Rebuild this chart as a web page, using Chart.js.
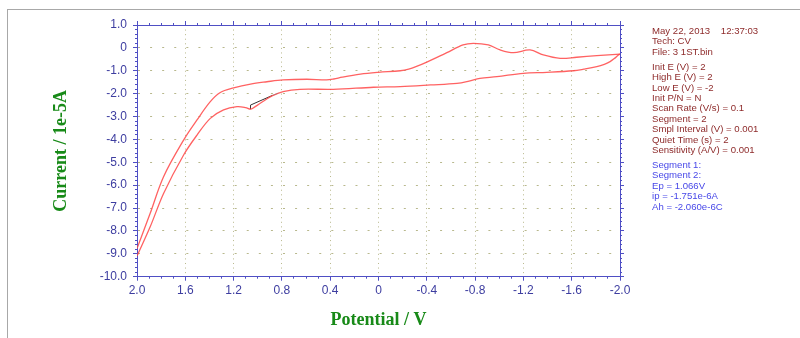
<!DOCTYPE html>
<html>
<head>
<meta charset="utf-8">
<script src="https://cdn.jsdelivr.net/npm/chart.js@4.4.1/dist/chart.umd.min.js"></script>
<style>
  body { margin: 0; background: #fff; }
  #wrap { position: relative; width: 800px; height: 338px; overflow: hidden; background: #fff; }
  #frame { position: absolute; left: 7px; top: 9px; width: 820px; height: 340px;
           border-left: 1px solid #a8a8a8; border-top: 1px solid #a8a8a8; }
  #info { position: absolute; left: 652px; top: 26px; font: 9.6px Arial, "Liberation Sans", sans-serif;
          line-height: 10.4px; color: #8e2b2b; white-space: pre; }
  #info .gap { margin-top: 4.6px; }
  #info .seg { color: #4848e8; }
</style>
</head>
<body>
<div id="wrap">
  <canvas id="cvChart" width="800" height="338"></canvas>
  <div id="frame"></div>
  <div id="info"></div>
</div>
<script>
// ----------------------------- data -----------------------------
// segment 1 : 2.0 V -> -2.0 V
const seg1Potential = [2.0, 1.89, 1.78, 1.614, 1.503, 1.393, 1.31, 1.2, 1.06, 0.924, 0.79, 0.593, 0.43, 0.37, 0.30, 0.15, 0.0,
  -0.18, -0.25, -0.32, -0.40, -0.51, -0.566, -0.70, -0.786, -0.91, -1.007, -1.118, -1.255, -1.365, -1.504, -1.642, -1.808, -2.0];
const seg1Current = [-8.77, -7.22, -5.63, -4.03, -3.15, -2.35, -1.95, -1.75, -1.58, -1.48, -1.40, -1.37, -1.40, -1.36, -1.28, -1.15, -1.07,
  -1.0, -0.93, -0.80, -0.62, -0.35, -0.21, 0.13, 0.20, 0.13, -0.09, -0.21, -0.09, -0.31, -0.46, -0.41, -0.34, -0.27];

// segment 2 : -2.0 V -> 2.0 V
const seg2Potential = [-2.0, -1.987, -1.95, -1.918, -1.87, -1.808, -1.70, -1.614, -1.394, -1.20, -0.98, -0.84, -0.75, -0.65, -0.43,
  -0.18, 0.041, 0.374, 0.65, 0.79, 0.882, 0.979, 1.03, 1.06, 1.10, 1.172, 1.283, 1.393, 1.503, 1.614, 1.78, 1.89, 2.0];
const seg2Current = [-0.27, -0.31, -0.48, -0.60, -0.72, -0.82, -0.93, -1.0, -1.07, -1.11, -1.26, -1.33, -1.45, -1.55, -1.62,
  -1.69, -1.72, -1.81, -1.81, -1.91, -2.10, -2.42, -2.60, -2.68, -2.61, -2.57, -2.71, -3.08, -3.81, -4.68, -6.36, -7.81, -9.1];

// peak baseline (black) and its extension (cyan)
const basePotential = [1.06, 1.06, 0.88];
const baseCurrent = [-2.68, -2.50, -2.08];
const extPotential = [0.88, 0.83];
const extCurrent = [-2.08, -1.98];

// axes
const xMin = -2.0, xMax = 2.0, xStep = 0.4, xMinorStep = 0.1;
const yMin = -10.0, yMax = 1.0, yStep = 1.0, yMinorStep = 0.2;

// info panel
const infoHead = ['May 22, 2013    12:37:03', 'Tech: CV', 'File: 3 1ST.bin'];
const infoParams = ['Init E (V) = 2', 'High E (V) = 2', 'Low E (V) = -2', 'Init P/N = N', 'Scan Rate (V/s) = 0.1',
  'Segment = 2', 'Smpl Interval (V) = 0.001', 'Quiet Time (s) = 2', 'Sensitivity (A/V) = 0.001'];
const infoResults = ['Segment 1:', 'Segment 2:', 'Ep = 1.066V', 'ip = -1.751e-6A', 'Ah = -2.060e-6C'];

// ----------------------------- info text -----------------------------
function addBlock(lines, cls) {
  let div = document.createElement('div');
  div.className = cls;
  div.textContent = lines.join('\n');
  document.getElementById('info').appendChild(div);
}
addBlock(infoHead, '');
addBlock(infoParams, 'gap');
addBlock(infoResults, 'gap seg');

// ----------------------------- chart -----------------------------
const axisBlue = '#4f4fc4';
const labelBlue = '#3d3da0';
const gridColor = '#b8b88c';
const titleGreen = '#188a18';
const curveRed = 'rgba(255, 70, 70, 0.85)';

function toPoints(xs, ys) {
  return xs.map((x, i) => ({ x: x, y: ys[i] }));
}

function fmt(v) {
  if (Math.abs(v) < 1e-9) return '0';
  return v.toFixed(1);
}

function fixSize(size) {
  return function (scale) {
    if (scale.isHorizontal()) scale.height = size; else scale.width = size;
    scale.paddingLeft = 0; scale.paddingRight = 0; scale.paddingTop = 0; scale.paddingBottom = 0;
  };
}

// ticks-only axis (no labels, no grid inside the plot), sits right on the plot edge
function tickAxis(axis, position, min, max, step, len) {
  return {
    type: 'linear', axis: axis, position: position, min: min, max: max,
    reverse: axis === 'x', weight: 0,
    ticks: { display: false, stepSize: step, maxTicksLimit: 1000 },
    grid: { drawOnChartArea: false, tickLength: len, tickColor: axisBlue, tickWidth: 1 },
    border: { color: axisBlue, width: 1 },
    afterFit: fixSize(0)
  };
}

const xMinorPx = 483.3 / ((xMax - xMin) / xMinorStep);
const yMinorPx = 251.7 / ((yMax - yMin) / yMinorStep);

new Chart(document.getElementById('cvChart'), {
  type: 'scatter',
  data: {
    datasets: [
      { label: 'Segment 1', data: toPoints(seg1Potential, seg1Current), showLine: true, borderColor: curveRed,
        borderWidth: 1.3, pointRadius: 0, tension: 0.35, xAxisID: 'x', yAxisID: 'y' },
      { label: 'Segment 2', data: toPoints(seg2Potential, seg2Current), showLine: true, borderColor: curveRed,
        borderWidth: 1.3, pointRadius: 0, tension: 0.35, xAxisID: 'x', yAxisID: 'y' },
      { label: 'Baseline', data: toPoints(basePotential, baseCurrent), showLine: true, borderColor: '#333333',
        borderWidth: 1, pointRadius: 0, xAxisID: 'x', yAxisID: 'y' },
      { label: 'Baseline ext', data: toPoints(extPotential, extCurrent), showLine: true, borderColor: '#40d8e8',
        borderWidth: 1, pointRadius: 0, xAxisID: 'x', yAxisID: 'y' }
    ]
  },
  options: {
    responsive: false,
    animation: false,
    devicePixelRatio: 1,
    layout: { padding: { left: 0, right: 180, top: 25, bottom: 0 } },
    plugins: { legend: { display: false }, tooltip: { enabled: false } },
    scales: {
      x: {
        type: 'linear', position: 'bottom', min: xMin, max: xMax, reverse: true, weight: 1,
        ticks: { stepSize: xStep, maxTicksLimit: 100, autoSkip: false, maxRotation: 0, padding: 3,
                 color: labelBlue, font: { family: 'Arial, "Liberation Sans"', size: 12 }, callback: fmt },
        grid: { color: gridColor, lineWidth: 1, tickLength: 4, tickColor: axisBlue, tickBorderDash: [] },
        border: { color: axisBlue, width: 1, dash: [1, yMinorPx - 1] },
        title: { display: true, text: 'Potential / V', color: titleGreen,
                 font: { family: '"Liberation Serif", "Times New Roman", serif', size: 18, weight: 'bold' },
                 padding: { top: 0, bottom: 7 } },
        afterFit: fixSize(61.3)
      },
      xMinor: tickAxis('x', 'bottom', xMin, xMax, xMinorStep, 2),
      xTop: tickAxis('x', 'top', xMin, xMax, xStep, 4),
      xTopMinor: tickAxis('x', 'top', xMin, xMax, xMinorStep, 2),
      y: {
        type: 'linear', position: 'left', min: yMin, max: yMax, weight: 1,
        ticks: { stepSize: yStep, maxTicksLimit: 100, autoSkip: false, padding: 6,
                 color: labelBlue, font: { family: 'Arial, "Liberation Sans"', size: 12 }, callback: fmt },
        grid: { color: gridColor, lineWidth: 1, tickLength: 4, tickColor: axisBlue, tickBorderDash: [] },
        border: { color: axisBlue, width: 1, dash: [2, xMinorPx - 2] },
        title: { display: true, text: 'Current / 1e-5A', color: titleGreen,
                 font: { family: '"Liberation Serif", "Times New Roman", serif', size: 18, weight: 'bold' },
                 padding: { top: 51, bottom: 0 } },
        afterFit: fixSize(137)
      },
      yMinor: tickAxis('y', 'left', yMin, yMax, yMinorStep, 2),
      yRight: tickAxis('y', 'right', yMin, yMax, yStep, 4),
      yRightMinor: tickAxis('y', 'right', yMin, yMax, yMinorStep, 2)
    }
  }
});
</script>
</body>
</html>
